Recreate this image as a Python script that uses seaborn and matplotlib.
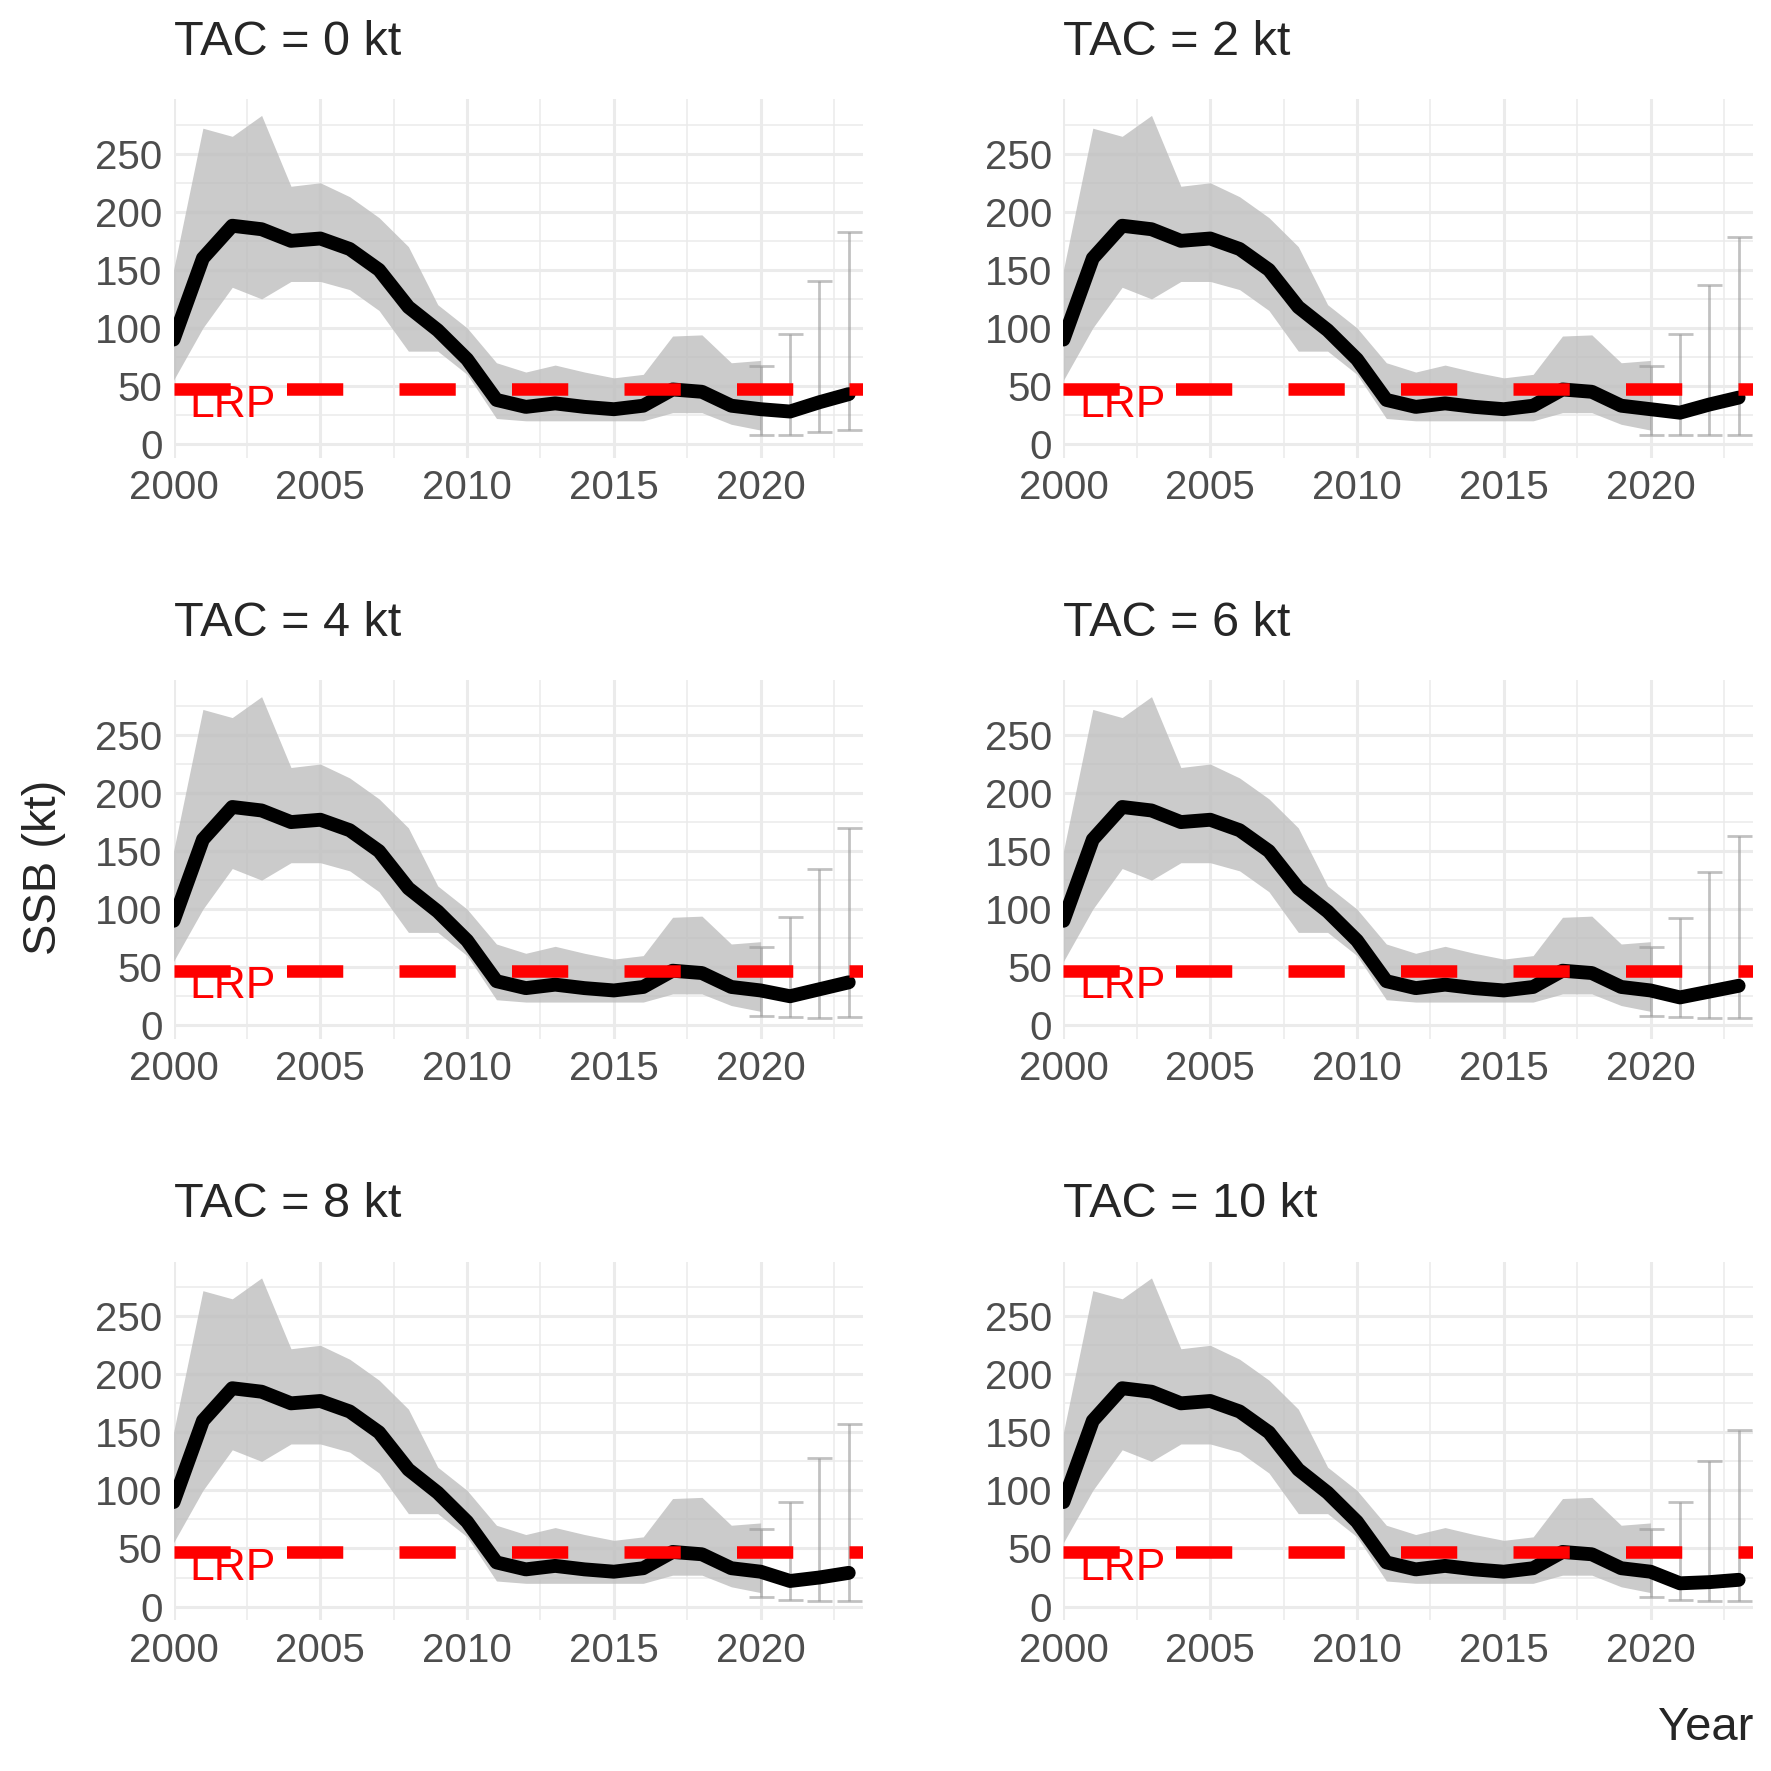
import numpy as np
import pandas as pd
import matplotlib
matplotlib.use("Agg")
import matplotlib.pyplot as plt
import seaborn as sns
from matplotlib.ticker import MultipleLocator

years_hist = list(range(2000, 2021))
median_hist = [90,160,188,185,175,177,168,150,118,98,73,38,32,35,32,30,33,47,45,33,30]
lower_hist = [55,100,135,125,140,140,133,115,80,80,60,22,20,20,20,20,20,27,27,17,12]
upper_hist = [150,272,265,283,222,225,213,195,170,120,100,70,62,68,62,57,60,93,94,70,72]

tac_labels = ["TAC = 0 kt","TAC = 2 kt","TAC = 4 kt","TAC = 6 kt","TAC = 8 kt","TAC = 10 kt"]
proj_years = [2020, 2021, 2022, 2023]
proj_median = [[30,28,36,43],[30,27,34,40],[30,25,31,37],[30,24,29,34],[30,22,25,29],[30,20,21,23]]
proj_low = [[8,8,10,12],[8,8,8,8],[8,7,6,7],[8,7,6,6],[8,6,5,5],[8,6,5,5]]
proj_high = [[67,95,140,183],[67,95,137,178],[67,93,135,170],[67,92,132,163],[67,90,128,157],[67,90,125,152]]
LRP = 47

sns.set_theme(style="whitegrid")
plt.rcParams['font.family'] = ['Liberation Sans', 'DejaVu Sans']

fig, axes = plt.subplots(3, 2, figsize=(17.71, 17.71), dpi=100)
fig.subplots_adjust(left=0.098, right=0.99, top=0.944, bottom=0.085, hspace=0.62, wspace=0.29)

for i, ax in enumerate(axes.flat):
    ax.set_facecolor("white")
    ax.fill_between(years_hist, lower_hist, upper_hist, color="#BEBEBE", alpha=0.8, lw=0, zorder=1)
    yrs = years_hist + proj_years[1:]
    med = median_hist + proj_median[i][1:]
    df = pd.DataFrame({"Year": yrs, "SSB": med})
    sns.lineplot(data=df, x="Year", y="SSB", ax=ax, color="black", lw=10, zorder=3)
    pm = np.array(proj_median[i]); lo = np.array(proj_low[i]); hi = np.array(proj_high[i])
    ax.errorbar(proj_years, pm, yerr=[pm - lo, hi - pm], fmt="none", ecolor="#999999", alpha=0.6,
                elinewidth=2, capsize=9, capthick=2, zorder=2)
    ax.axhline(LRP, color="red", lw=9, dashes=(4.5, 4.5), zorder=4)
    ax.text(2002, 33, "LRP", color="red", fontsize=32, ha="center", va="center", zorder=5)
    ax.set_xlim(2000, 2023.5)
    ax.set_ylim(-12, 297)
    ax.xaxis.set_major_locator(MultipleLocator(5))
    ax.xaxis.set_minor_locator(MultipleLocator(2.5))
    ax.yaxis.set_major_locator(MultipleLocator(50))
    ax.yaxis.set_minor_locator(MultipleLocator(25))
    ax.grid(which="major", color="#EBEBEB", lw=2.2)
    ax.grid(which="minor", color="#EBEBEB", lw=1.1)
    for s in ax.spines.values():
        s.set_visible(False)
    ax.tick_params(axis="both", which="both", length=0, labelsize=29, labelcolor="#4D4D4D", pad=8)
    ax.set_xlabel(""); ax.set_ylabel("")
    ax.set_title(tac_labels[i], loc="left", fontsize=35, pad=32)

fig.text(0.99, 0.012, "Year", fontsize=34, ha="right", va="bottom")
fig.text(0.025, 0.51, "SSB (kt)", fontsize=34, rotation=90, ha="center", va="center")
fig.savefig("out.png", dpi=100, facecolor="white")
